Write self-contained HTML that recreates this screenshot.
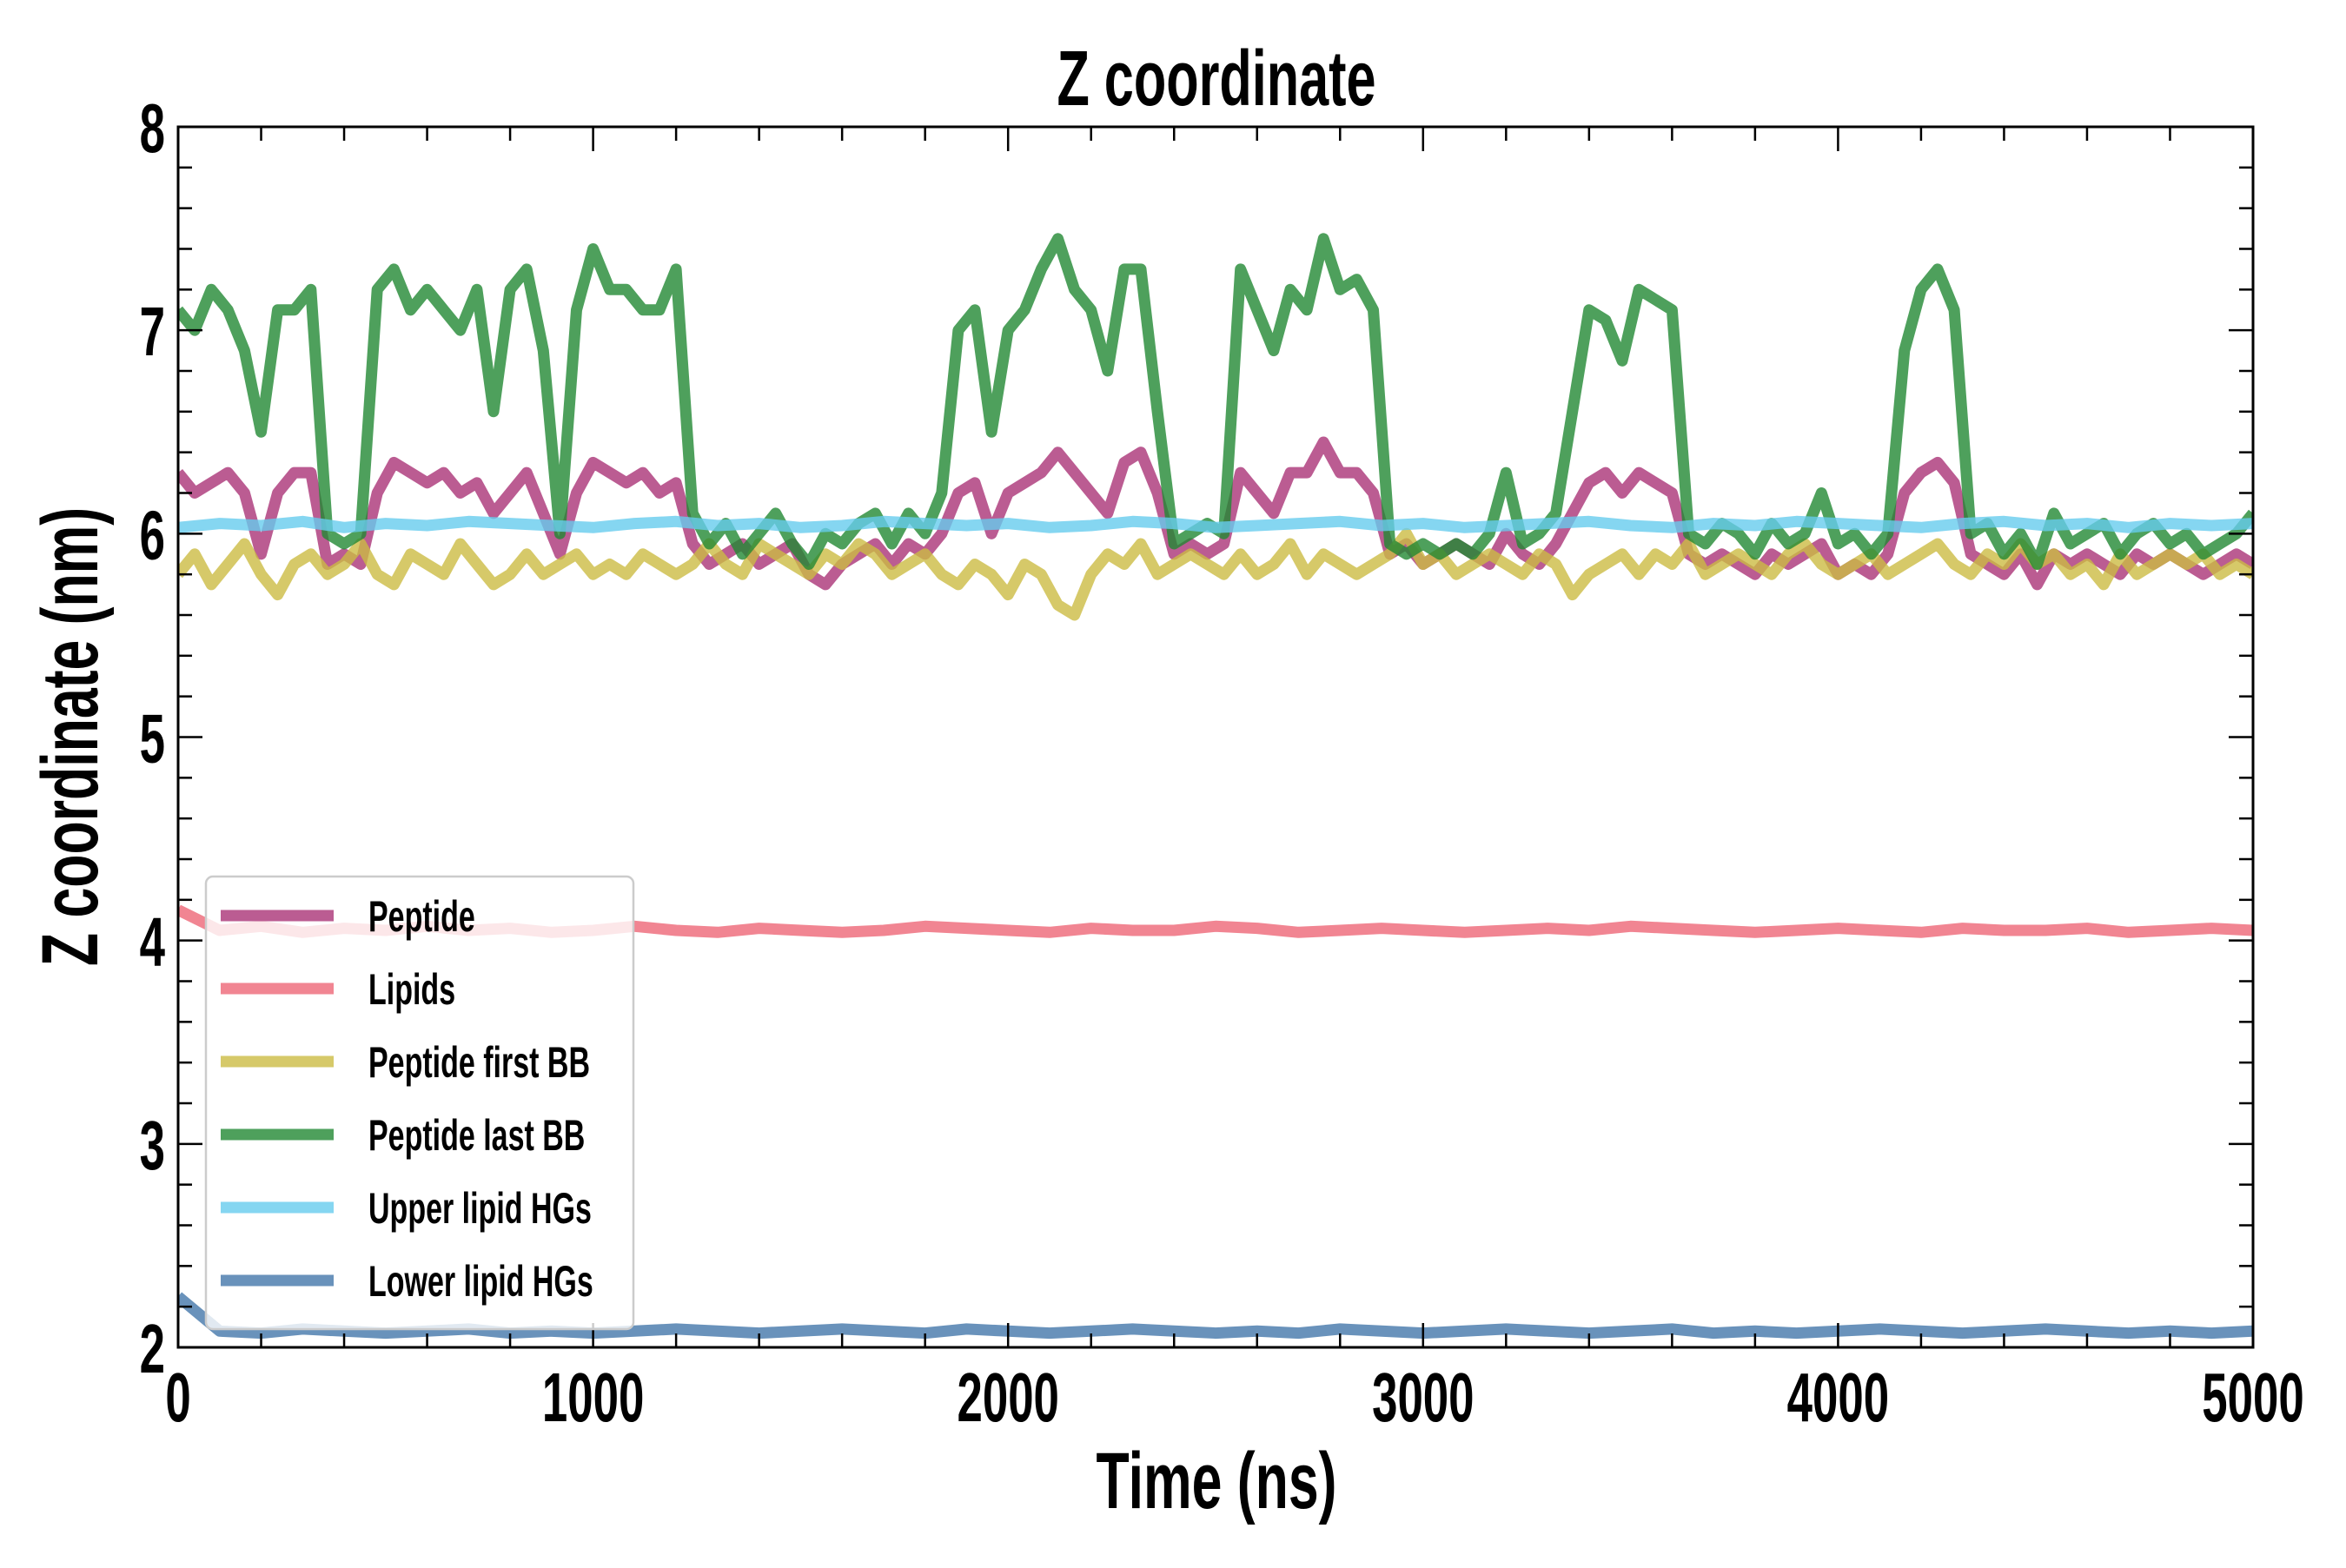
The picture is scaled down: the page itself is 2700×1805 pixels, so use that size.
<!DOCTYPE html>
<html><head><meta charset="utf-8"><style>
html,body{margin:0;padding:0;background:#fff;}
svg text{font-family:"Liberation Sans",sans-serif;font-weight:bold;fill:#000;}
</style></head><body>
<svg id="chart" width="2700" height="1800" viewBox="0 0 2700 1800" xmlns="http://www.w3.org/2000/svg">
<rect width="2700" height="1800" fill="#fff"/>
<g id="plot"></g>
<g id="axes"></g>
<g id="legend"></g>
<text x="0" y="0" font-size="90" text-anchor="middle" transform="translate(1400,121) scale(0.68,1)">Z coordinate</text>
<text x="0" y="0" font-size="92" text-anchor="middle" transform="translate(1400,1736) scale(0.68,1)">Time (ns)</text>
<text x="0" y="0" font-size="92" text-anchor="middle" transform="translate(112,848) rotate(-90) scale(0.68,1)">Z coordinate (nm)</text>
</svg>
<script>
const xTicks = [0,1000,2000,3000,4000,5000];
const yTicks = [2,3,4,5,6,7,8];
const seriesNames = ["Peptide","Lipids","Peptide first BB","Peptide last BB","Upper lipid HGs","Lower lipid HGs"];
const peptide = [6.3,6.2,6.25,6.3,6.2,5.9,6.2,6.3,6.3,5.85,5.9,5.85,6.2,6.35,6.3,6.25,6.3,6.2,6.25,6.1,6.2,6.3,6.1,5.9,6.2,6.35,6.3,6.25,6.3,6.2,6.25,5.95,5.85,5.9,5.95,5.85,5.9,5.95,5.8,5.75,5.85,5.9,5.95,5.85,5.95,5.9,6.0,6.2,6.25,6.0,6.2,6.25,6.3,6.4,6.3,6.2,6.1,6.35,6.4,6.2,5.9,5.95,5.9,5.95,6.3,6.2,6.1,6.3,6.3,6.45,6.3,6.3,6.2,5.9,5.95,5.85,5.9,5.95,5.9,5.85,6.0,5.9,5.85,5.95,6.1,6.25,6.3,6.2,6.3,6.25,6.2,5.9,5.85,5.9,5.85,5.8,5.9,5.85,5.9,5.95,5.8,5.85,5.8,5.9,6.2,6.3,6.35,6.25,5.9,5.85,5.8,5.9,5.75,5.9,5.85,5.9,5.85,5.8,5.9,5.85,5.9,5.85,5.8,5.85,5.9,5.85];
const lipids = [4.15,4.05,4.07,4.04,4.06,4.05,4.07,4.05,4.06,4.04,4.05,4.07,4.05,4.04,4.06,4.05,4.04,4.05,4.07,4.06,4.05,4.04,4.06,4.05,4.05,4.07,4.06,4.04,4.05,4.06,4.05,4.04,4.05,4.06,4.05,4.07,4.06,4.05,4.04,4.05,4.06,4.05,4.04,4.06,4.05,4.05,4.06,4.04,4.05,4.06,4.05];
const firstBB = [5.8,5.9,5.75,5.85,5.95,5.8,5.7,5.85,5.9,5.8,5.85,5.95,5.8,5.75,5.9,5.85,5.8,5.95,5.85,5.75,5.8,5.9,5.8,5.85,5.9,5.8,5.85,5.8,5.9,5.85,5.8,5.85,5.95,5.85,5.8,5.95,5.9,5.85,5.8,5.9,5.85,5.95,5.9,5.8,5.85,5.9,5.8,5.75,5.85,5.8,5.7,5.85,5.8,5.65,5.6,5.8,5.9,5.85,5.95,5.8,5.85,5.9,5.85,5.8,5.9,5.8,5.85,5.95,5.8,5.9,5.85,5.8,5.85,5.9,6.0,5.85,5.9,5.8,5.85,5.9,5.85,5.8,5.9,5.85,5.7,5.8,5.85,5.9,5.8,5.9,5.85,5.95,5.8,5.85,5.9,5.85,5.8,5.9,5.95,5.85,5.8,5.85,5.9,5.8,5.85,5.9,5.95,5.85,5.8,5.9,5.85,5.95,5.85,5.9,5.8,5.85,5.75,5.9,5.8,5.85,5.9,5.85,5.9,5.8,5.85,5.8];
const lastBB = [7.1,7.0,7.2,7.1,6.9,6.5,7.1,7.1,7.2,6.0,5.95,6.0,7.2,7.3,7.1,7.2,7.1,7.0,7.2,6.6,7.2,7.3,6.9,6.0,7.1,7.4,7.2,7.2,7.1,7.1,7.3,6.1,5.95,6.05,5.9,6.0,6.1,5.95,5.85,6.0,5.95,6.05,6.1,5.95,6.1,6.0,6.2,7.0,7.1,6.5,7.0,7.1,7.3,7.45,7.2,7.1,6.8,7.3,7.3,6.6,5.95,6.0,6.05,6.0,7.3,7.1,6.9,7.2,7.1,7.45,7.2,7.25,7.1,5.95,5.9,5.95,5.9,5.95,5.9,6.0,6.3,5.95,6.0,6.1,6.6,7.1,7.05,6.85,7.2,7.15,7.1,6.0,5.95,6.05,6.0,5.9,6.05,5.95,6.0,6.2,5.95,6.0,5.9,6.0,6.9,7.2,7.3,7.1,6.0,6.05,5.9,6.0,5.85,6.1,5.95,6.0,6.05,5.9,6.0,6.05,5.95,6.0,5.9,5.95,6.0,6.1];
const upperHG = [6.03,6.05,6.04,6.06,6.03,6.05,6.04,6.06,6.05,6.04,6.03,6.05,6.06,6.04,6.05,6.03,6.04,6.06,6.05,6.04,6.05,6.03,6.04,6.06,6.05,6.03,6.04,6.05,6.06,6.04,6.05,6.03,6.04,6.05,6.06,6.04,6.03,6.05,6.04,6.06,6.05,6.04,6.03,6.05,6.06,6.04,6.05,6.03,6.05,6.04,6.05];
const lowerHG = [2.25,2.08,2.07,2.09,2.08,2.07,2.08,2.09,2.07,2.08,2.07,2.08,2.09,2.08,2.07,2.08,2.09,2.08,2.07,2.09,2.08,2.07,2.08,2.09,2.08,2.07,2.08,2.07,2.09,2.08,2.07,2.08,2.09,2.08,2.07,2.08,2.09,2.07,2.08,2.07,2.08,2.09,2.08,2.07,2.08,2.09,2.08,2.07,2.08,2.07,2.08];

const NS = "http://www.w3.org/2000/svg";
const X0=205, X1=2593, Y0=1551, Y1=146;
const xMin=0,xMax=5000,yMin=2,yMax=8;
function xs(v){return X0+(v-xMin)/(xMax-xMin)*(X1-X0);}
function ys(v){return Y0-(v-yMin)/(yMax-yMin)*(Y0-Y1);}
function mk(tag,attrs,parent){const e=document.createElementNS(NS,tag);for(const k in attrs)e.setAttribute(k,attrs[k]);parent.appendChild(e);return e;}

const plot=document.getElementById('plot');
const axes=document.getElementById('axes');
const legend=document.getElementById('legend');
const colors=["#aa3377","#ee6677","#ccbb44","#228833","#66ccee","#4477aa"];
const data=[peptide,lipids,firstBB,lastBB,upperHG,lowerHG];
const drawOrder=[0,1,2,3,4,5];
const keys=["peptide","lipids","peptide-first-bb","peptide-last-bb","upper-lipid-hgs","lower-lipid-hgs"];
const cp=mk('clipPath',{id:'clip'},plot);
mk('rect',{x:X0,y:Y1,width:X1-X0,height:Y0-Y1},cp);
drawOrder.forEach(si=>{
  const arr=data[si];const n=arr.length;
  const pts=arr.map((v,i)=>xs(xMin+i*(xMax-xMin)/(n-1)).toFixed(1)+','+ys(v).toFixed(1)).join(' ');
  const pl=mk('polyline',{points:pts,fill:'none',stroke:colors[si],'stroke-width':13,'stroke-opacity':0.8,'stroke-linejoin':'round','clip-path':'url(#clip)'},plot);
  
  
});

const fr=mk('rect',{x:X0,y:Y1,width:X1-X0,height:Y0-Y1,fill:'none',stroke:'#000','stroke-width':3},axes);


for(let v=0;v<=5000;v+=200){
  const major=v%1000===0;const L=major?28:16;const x=xs(v);
  const t1=mk('line',{x1:x,y1:Y0,x2:x,y2:Y0-L,stroke:'#000','stroke-width':2.5},axes);
  
  
  const t2=mk('line',{x1:x,y1:Y1,x2:x,y2:Y1+L,stroke:'#000','stroke-width':2.5},axes);
  
  
}
xTicks.forEach(v=>{
  const t=mk('text',{x:0,y:0,'font-size':80,'text-anchor':'middle',transform:`translate(${xs(v)},1636) scale(0.66,1)`},axes);
  t.textContent=String(v);
  
  
});
for(let k=0;k<=30;k++){
  const v=2+k*0.2;const major=k%5===0;const L=major?28:16;const y=ys(v);
  const t1=mk('line',{x1:X0,y1:y,x2:X0+L,y2:y,stroke:'#000','stroke-width':2.5},axes);
  
  
  const t2=mk('line',{x1:X1,y1:y,x2:X1-L,y2:y,stroke:'#000','stroke-width':2.5},axes);
  
  
}
yTicks.forEach(v=>{
  const t=mk('text',{x:0,y:0,'font-size':80,'text-anchor':'end',transform:`translate(190,${ys(v)+29}) scale(0.66,1)`},axes);
  t.textContent=String(v);
  
  
});
const lb=mk('rect',{x:237,y:1009,width:492,height:521,rx:8,fill:'#fff','fill-opacity':0.8,stroke:'#cccccc','stroke-width':2.5},legend);


seriesNames.forEach((nm,i)=>{
  const y=1054+i*84;
  const l=mk('line',{x1:254,y1:y,x2:384,y2:y,stroke:colors[i],'stroke-width':13,'stroke-opacity':0.8},legend);
  
  
  const t=mk('text',{x:0,y:0,'font-size':50,transform:`translate(424,${y+18}) scale(0.68,1)`},legend);
  t.textContent=nm;
  
  
});
</script>
</body></html>
